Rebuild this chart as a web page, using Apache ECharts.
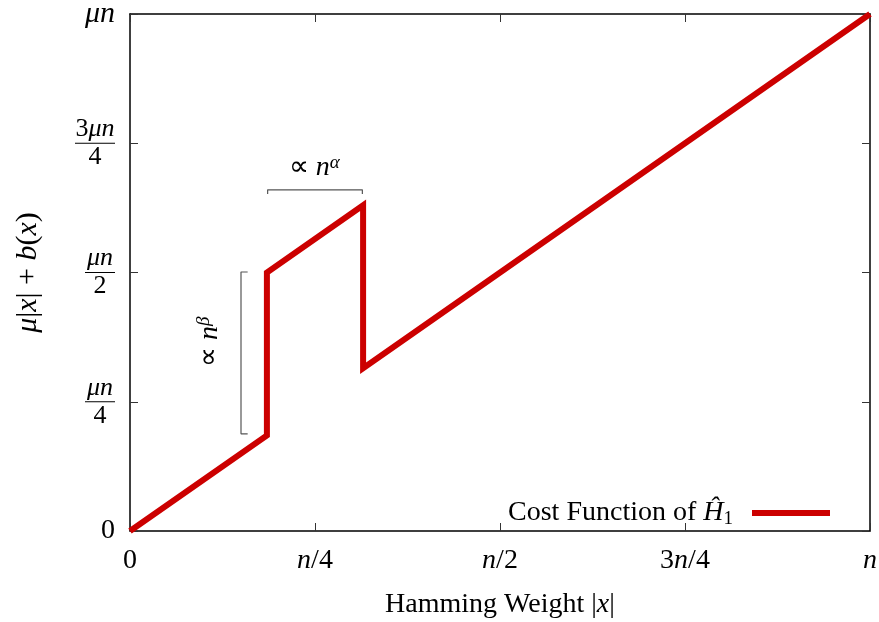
<!DOCTYPE html>
<html>
<head>
<meta charset="utf-8">
<script src="https://cdn.jsdelivr.net/npm/echarts@6/dist/echarts.min.js"></script>
<style>
  html, body { margin: 0; padding: 0; background: #fff; }
  #chart { width: 879px; height: 622px; }
</style>
</head>
<body>
<div id="chart"></div>
<script>
// weight as a fraction of n, cost as a fraction of mu*n
const weight = [0, 0.185, 0.185, 0.315, 0.315, 1];
const cost = [0, 0.185, 0.5, 0.63, 0.315, 1];
const seriesName = "Cost Function of \u0124_1";

// brackets for the annotations
const betaBracket = [[0.159, 0.501], [0.150, 0.501], [0.150, 0.188], [0.159, 0.188]];
const alphaBracket = [[0.186, 0.652], [0.186, 0.66], [0.314, 0.66], [0.314, 0.652]];

const xTickLabels = ["0", "{i|n}/4", "{i|n}/2", "3{i|n}/4", "{i|n}"];
const yTickLabels = [
  "{big|0}",
  "{numi|\u03bcn}\n{bar2| }\n{den|4}",
  "{numi|\u03bcn}\n{bar2| }\n{den|2}",
  "{num|3}{numi|\u03bcn}\n{bar3| }\n{den|4}",
  "{bigi|\u03bcn}",
];

const FONT = "Liberation Serif";

const chart = echarts.init(document.getElementById("chart"));

const frame = { show: true, onZero: false, lineStyle: { color: "#000", width: 1.5 } };
const ticks = { show: true, inside: true, length: 8, lineStyle: { color: "#333", width: 1 } };

const option = {
  animation: false,
  grid: { left: 130, right: 9, top: 14, bottom: 91, outerBoundsMode: "none" },
  xAxis: [
    {
      type: "value",
      min: 0,
      max: 1,
      interval: 0.25,
      axisLine: frame,
      axisTick: ticks,
      splitLine: { show: false },
      axisLabel: {
        margin: 16,
        fontFamily: FONT,
        fontSize: 28,
        color: "#000",
        formatter: (v) => xTickLabels[Math.round(v * 4)],
        rich: { i: { fontFamily: FONT, fontSize: 28, fontStyle: "italic", color: "#000" } },
      },
      name: "Hamming Weight |{i|x}|",
      nameLocation: "middle",
      nameGap: 60,
      nameTextStyle: {
        fontFamily: FONT,
        fontSize: 28,
        color: "#000",
        rich: { i: { fontFamily: FONT, fontSize: 28, fontStyle: "italic", color: "#000" } },
      },
    },
    {
      type: "value",
      position: "top",
      min: 0,
      max: 1,
      interval: 0.25,
      axisLine: frame,
      axisTick: ticks,
      axisLabel: { show: false },
      splitLine: { show: false },
    },
  ],
  yAxis: [
    {
      type: "value",
      min: 0,
      max: 1,
      interval: 0.25,
      axisLine: frame,
      axisTick: ticks,
      splitLine: { show: false },
      axisLabel: {
        margin: 15,
        color: "#000",
        fontFamily: FONT,
        formatter: (v) => yTickLabels[Math.round(v * 4)],
        rich: {
          big: { fontFamily: FONT, fontSize: 28, color: "#000", lineHeight: 30 },
          bigi: { fontFamily: FONT, fontSize: 30, fontStyle: "italic", color: "#000", lineHeight: 30 },
          num: { fontFamily: FONT, fontSize: 26, color: "#000", lineHeight: 25, align: "center" },
          numi: { fontFamily: FONT, fontSize: 26, fontStyle: "italic", color: "#000", lineHeight: 25, align: "center" },
          bar2: { width: 30, height: 1, lineHeight: 3, backgroundColor: "#000", fontSize: 1, align: "center" },
          bar3: { width: 40, height: 1, lineHeight: 3, backgroundColor: "#000", fontSize: 1, align: "center" },
          den: { fontFamily: FONT, fontSize: 26, color: "#000", lineHeight: 25, align: "center" },
        },
      },
      name: "{i|\u03bc}|{i|x}| + {i|b}({i|x})",
      nameLocation: "middle",
      nameGap: 87,
      nameRotate: 90,
      nameTextStyle: {
        fontFamily: FONT,
        fontSize: 30,
        color: "#000",
        rich: { i: { fontFamily: FONT, fontSize: 30, fontStyle: "italic", color: "#000" } },
      },
    },
    {
      type: "value",
      position: "right",
      min: 0,
      max: 1,
      interval: 0.25,
      axisLine: frame,
      axisTick: ticks,
      axisLabel: { show: false },
      splitLine: { show: false },
    },
  ],
  legend: {
    right: 44,
    top: 494,
    align: "right",
    itemWidth: 78,
    itemHeight: 6,
    data: [{ name: seriesName, icon: "rect" }],
    formatter: () => "Cost Function of {i|\u0124}{sub|1}{gap|}",
    textStyle: {
      fontFamily: FONT,
      fontSize: 28,
      color: "#000",
      rich: {
        i: { fontFamily: FONT, fontSize: 28, fontStyle: "italic", color: "#000", lineHeight: 32 },
        sub: { fontFamily: FONT, fontSize: 19, color: "#000", lineHeight: 16, verticalAlign: "bottom" },
        gap: { width: 14 },
      },
    },
  },
  series: [
    {
      name: seriesName,
      type: "line",
      data: weight.map((w, i) => [w, cost[i]]),
      showSymbol: false,
      lineStyle: { color: "#cc0000", width: 6, join: "miter" },
      itemStyle: { color: "#cc0000" },
      z: 5,
    },
    {
      type: "line",
      data: betaBracket,
      showSymbol: false,
      silent: true,
      lineStyle: { color: "#555", width: 1.2 },
      z: 3,
    },
    {
      type: "line",
      data: alphaBracket,
      showSymbol: false,
      silent: true,
      lineStyle: { color: "#555", width: 1.2 },
      z: 3,
    },
  ],
};

chart.setOption(option);

// annotation texts placed from data coordinates
const annRich = {
  t: { fontFamily: FONT, fontSize: 28, color: "#000", lineHeight: 30 },
  i: { fontFamily: FONT, fontSize: 28, fontStyle: "italic", color: "#000", lineHeight: 30 },
  sup: { fontFamily: FONT, fontSize: 19, fontStyle: "italic", color: "#000", lineHeight: 16, verticalAlign: "top" },
};
const alphaPos = chart.convertToPixel({ gridIndex: 0 }, [0.249, 0.702]);
const betaPos = chart.convertToPixel({ gridIndex: 0 }, [0.108, 0.366]);
chart.setOption({
  graphic: [
    {
      type: "text",
      x: alphaPos[0],
      y: alphaPos[1],
      style: {
        text: "{t|\u221d }{i|n}{sup|\u03b1}",
        rich: annRich,
        align: "center",
        verticalAlign: "middle",
      },
    },
    {
      type: "text",
      x: betaPos[0],
      y: betaPos[1],
      rotation: Math.PI / 2,
      style: {
        text: "{t|\u221d }{i|n}{sup|\u03b2}",
        rich: annRich,
        align: "center",
        verticalAlign: "middle",
      },
    },
  ],
});
</script>
</body>
</html>
